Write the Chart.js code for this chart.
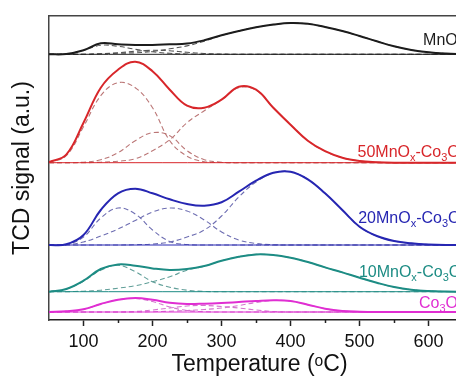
<!DOCTYPE html>
<html>
<head>
<meta charset="utf-8">
<script src="https://cdn.jsdelivr.net/npm/chart.js@4.4.1/dist/chart.umd.min.js"></script>
<style>
    html, body { margin: 0; padding: 0; background: #fff; overflow: hidden; }
    canvas { display: block; }
</style>
</head>
<body>
<canvas id="chartTpr" width="480" height="376"></canvas>
<script>
/**
 * Temperature (°C)
 */
const temps = [50, 75, 100, 125, 150, 175, 200, 225, 250, 275, 300, 325, 350, 375, 400, 425, 450, 475, 500, 525, 550, 575, 600, 625, 650];

/**
 * Axis ticks
 */
const majorTicks = [100, 200, 300, 400, 500, 600];
const minorTicks = [150, 250, 350, 450, 550, 650];

/**
 * MnOx
 */
const mnoxFit   = [0, 0.3, 4, 11, 10, 9.3, 9.3, 10, 10.7, 14, 19, 23.3, 27, 29.7, 31.3, 30.5, 27.3, 23.3, 18.3, 13, 8, 4.3, 2, 0.7, 0];
const mnoxPeak1 = [0, 0.3, 4, 9, 8, 5, 2.5, 1, 0.3, 0, 0, 0, 0, 0, 0, 0, 0, 0, 0, 0, 0, 0, 0, 0, 0];
const mnoxPeak2 = [0, 0, 0, 0.5, 1.5, 3, 4, 3.5, 2, 0.8, 0.2, 0, 0, 0, 0, 0, 0, 0, 0, 0, 0, 0, 0, 0, 0];
const mnoxPeak3 = [0, 0, 0, 0.5, 1, 1.5, 2.8, 5.5, 8.4, 13.2, 18.8, 23.3, 27, 29.7, 31.3, 30.5, 27.3, 23.3, 18.3, 13, 8, 4.3, 2, 0.7, 0];

/**
 * 50MnOx-Co3O4
 */
const mn50Fit   = [0.5, 8, 40, 75, 93, 101, 91.5, 73, 57, 55, 63, 76, 73, 55, 38, 22, 11.5, 5, 1.7, 0.5, 0, 0, 0, 0, 0];
const mn50Peak1 = [0.5, 7, 36, 67, 80, 75, 55, 22, 6.5, 1, 0.2, 0, 0, 0, 0, 0, 0, 0, 0, 0, 0, 0, 0, 0, 0];
const mn50Peak2 = [0, 0, 0.5, 3, 10, 22, 30, 27, 12, 3, 0.5, 0, 0, 0, 0, 0, 0, 0, 0, 0, 0, 0, 0, 0, 0];
const mn50Peak3 = [0, 0, 0, 0.5, 1.5, 4, 12, 23, 40, 52, 63, 75, 72.5, 55, 38, 22, 11.5, 5, 1.7, 0.5, 0, 0, 0, 0, 0];

/**
 * 20MnOx-Co3O4
 */
const mn20Fit   = [0, 0.7, 10, 35, 51.7, 56.3, 51.7, 45.7, 41, 39.3, 42.7, 53.3, 64.3, 72.3, 73.3, 65.7, 51.7, 35, 18.3, 9, 4, 1.7, 0.5, 0, 0];
const mn20Peak1 = [0, 0.5, 8, 27, 37, 31, 15, 3.5, 0.5, 0, 0, 0, 0, 0, 0, 0, 0, 0, 0, 0, 0, 0, 0, 0, 0];
const mn20Peak2 = [0, 0.3, 3, 9, 16, 24.5, 33, 37, 34, 25, 13, 5, 1.5, 0.3, 0, 0, 0, 0, 0, 0, 0, 0, 0, 0, 0];
const mn20Peak3 = [0, 0, 0, 0, 0, 0.3, 1, 3, 8, 15, 29, 48, 63, 72, 73.3, 65.7, 51.7, 35, 18.3, 9, 4, 1.7, 0.5, 0, 0];

/**
 * 10MnOx-Co3O4
 */
const mn10Fit   = [0, 2.7, 11, 22.7, 27.3, 26, 23.3, 21.7, 22.7, 25.7, 31, 35, 37.3, 36.7, 34, 29.7, 24.3, 19.3, 14, 9, 4.7, 2, 0.7, 0.2, 0];
const mn10Peak1 = [0, 2.5, 10.5, 21.5, 26.5, 20, 10, 4.5, 1.5, 0.3, 0, 0, 0, 0, 0, 0, 0, 0, 0, 0, 0, 0, 0, 0, 0];
const mn10Peak2 = [0, 0, 0.5, 1.5, 3.5, 6, 10, 15, 21.5, 25.5, 31, 35, 37.3, 36.7, 34, 29.7, 24.3, 19.3, 14, 9, 4.7, 2, 0.7, 0.2, 0];

/**
 * Co3O4
 */
const coFit   = [0, 0.7, 2.7, 8, 12.3, 14, 12.3, 9.3, 8, 8.3, 9, 10, 11, 11.7, 11, 7.3, 3.3, 1, 0.3, 0, 0, 0, 0, 0, 0];
const coPeak1 = [0, 0.7, 2.7, 8, 12.3, 13.5, 10.5, 5, 1.5, 0.3, 0, 0, 0, 0, 0, 0, 0, 0, 0, 0, 0, 0, 0, 0, 0];
const coPeak2 = [0, 0, 0, 0, 0, 0.5, 2, 4, 6, 6.5, 5.5, 4, 2, 0.5, 0, 0, 0, 0, 0, 0, 0, 0, 0, 0, 0];
const coPeak3 = [0, 0, 0, 0, 0, 0, 0.3, 0.8, 1.5, 2.5, 4, 6.5, 9.5, 11.5, 11, 7.3, 3.3, 1, 0.3, 0, 0, 0, 0, 0, 0];

/**
 * Sample names (text, subscript)
 */
const mnoxName = [['MnO', 0], ['x', 1]];
const mn50Name = [['50MnO', 0], ['x', 1], ['-Co', 0], ['3', 1], ['O', 0], ['4', 1]];
const mn20Name = [['20MnO', 0], ['x', 1], ['-Co', 0], ['3', 1], ['O', 0], ['4', 1]];
const mn10Name = [['10MnO', 0], ['x', 1], ['-Co', 0], ['3', 1], ['O', 0], ['4', 1]];
const coName   = [['Co', 0], ['3', 1], ['O', 0], ['4', 1]];

/**
 * Range
 */
const xMin = 50;
const xMax = 660;

/**
 * Stack: offset, colours and label anchor of each curve
 */
const samples = [
    { name: mnoxName, fit: mnoxFit, peaks: [mnoxPeak1, mnoxPeak2, mnoxPeak3], base: 265.7, color: '#1c1c1c', dash: '#555555', at: [592, 274.6] },
    { name: mn50Name, fit: mn50Fit, peaks: [mn50Peak1, mn50Peak2, mn50Peak3], base: 157.3, color: '#d8262a', dash: '#bb7676', at: [497, 162.6] },
    { name: mn20Name, fit: mn20Fit, peaks: [mn20Peak1, mn20Peak2, mn20Peak3], base: 75, color: '#2626b2', dash: '#6e6eb2', at: [498, 96.6] },
    { name: mn10Name, fit: mn10Fit, peaks: [mn10Peak1, mn10Peak2], base: 28.3, color: '#1d8c84', dash: '#619f99', at: [499, 42.9] },
    { name: coName, fit: coFit, peaks: [coPeak1, coPeak2, coPeak3], base: 8, color: '#e02ed2', dash: '#d474ce', at: [586, 11.6] }
];

/**
 * Datasets
 */
const datasets = [];

samples.forEach(function (s) {
    datasets.push({
        data: temps.map((t, i) => ({ x: t, y: s.base + s.fit[i] })),
        borderColor: s.color,
        borderWidth: 2,
        order: 0
    });

    s.peaks.forEach(function (p) {
        datasets.push({
            data: temps.map((t, i) => ({ x: t, y: s.base + p[i] })),
            borderColor: s.dash,
            borderWidth: 1.1,
            borderDash: [5, 3],
            order: 2
        });
    });

    datasets.push({
        data: [{ x: xMin, y: s.base }, { x: xMax, y: s.base }],
        borderColor: s.color,
        borderWidth: 1,
        order: 1
    });
});

/**
 * Sample labels with subscripts
 */
const sampleLabels = {
    id: 'sampleLabels',
    afterDatasetsDraw(chart) {
        const { ctx, scales: { x, y } } = chart;
        ctx.save();
        ctx.textBaseline = 'alphabetic';
        samples.forEach(function (s) {
            let px = x.getPixelForValue(s.at[0]);
            const py = y.getPixelForValue(s.at[1]);
            ctx.fillStyle = s.color;
            s.name.forEach(function ([text, sub]) {
                ctx.font = sub ? '11px "Liberation Sans", Arial, sans-serif' : '16px "Liberation Sans", Arial, sans-serif';
                ctx.fillText(text, px, sub ? py + 4 : py);
                px += ctx.measureText(text).width;
            });
        });
        ctx.restore();
    }
};

Chart.defaults.font.family = '"Liberation Sans", Arial, sans-serif';
Chart.defaults.color = '#111';

new Chart(document.getElementById('chartTpr'), {
    type: 'line',
    data: { datasets: datasets },
    plugins: [sampleLabels],
    options: {
        responsive: false,
        animation: false,
        layout: { padding: { left: 0, right: 10, top: 16, bottom: 0 } },
        elements: {
            point: { radius: 0 },
            line: { tension: 0.4, fill: false }
        },
        plugins: {
            legend: { display: false },
            tooltip: { enabled: false }
        },
        scales: {
            x: {
                type: 'linear',
                position: 'bottom',
                weight: 1,
                min: xMin,
                max: xMax,
                afterBuildTicks: s => { s.ticks = majorTicks.map(v => ({ value: v })); },
                afterFit: s => { s.height = 56; },
                ticks: { font: { size: 18 }, padding: 5, maxRotation: 0 },
                grid: { drawOnChartArea: false, tickLength: 6, tickWidth: 1.5, tickColor: '#222' },
                border: { color: '#222', width: 1.5 },
                title: {
                    display: true,
                    text: 'Temperature (ᵒC)',
                    font: { size: 23, lineHeight: 1 },
                    padding: { top: 0, bottom: 0 }
                }
            },
            xMinor: {
                type: 'linear',
                position: 'bottom',
                weight: 0,
                min: xMin,
                max: xMax,
                afterBuildTicks: s => { s.ticks = minorTicks.map(v => ({ value: v })); },
                afterFit: s => { s.height = 0; },
                ticks: { display: false },
                grid: { drawOnChartArea: false, tickLength: 3, tickWidth: 1.5, tickColor: '#222' },
                border: { display: false }
            },
            xTop: {
                type: 'linear',
                position: 'top',
                min: xMin,
                max: xMax,
                afterFit: s => { s.height = 0; },
                ticks: { display: false },
                grid: { display: false },
                border: { color: '#444', width: 1.5 }
            },
            y: {
                min: 0,
                max: 304,
                afterFit: s => { s.width = 49; },
                ticks: { display: false },
                grid: { display: false },
                border: { color: '#444', width: 1.5 },
                title: {
                    display: true,
                    text: 'TCD signal (a.u.)',
                    font: { size: 23, lineHeight: 1 },
                    padding: { top: 11, bottom: 0 }
                }
            }
        }
    }
});
</script>
</body>
</html>
